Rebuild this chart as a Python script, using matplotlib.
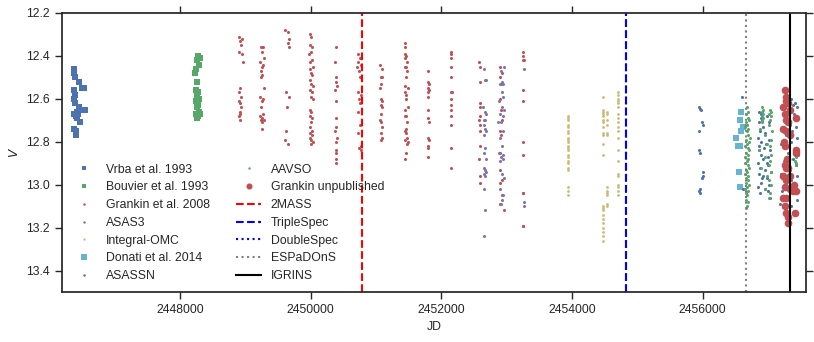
import matplotlib
matplotlib.use("Agg")
import matplotlib.pyplot as plt

plt.rcParams["font.family"] = ["Liberation Sans", "DejaVu Sans"]
plt.rcParams["font.size"] = 8.8
plt.rcParams["text.color"] = ".15"
plt.rcParams["axes.labelcolor"] = ".15"
plt.rcParams["xtick.color"] = ".15"
plt.rcParams["ytick.color"] = ".15"

# --- photometry (JD, V) ---
vrba = [(2446380, 12.46), (2446380, 12.48), (2446385, 12.50), (2446445, 12.52), (2446500, 12.55),
        (2446535, 12.55), (2446380, 12.56), (2446390, 12.58), (2446380, 12.60), (2446395, 12.62),
        (2446450, 12.64), (2446505, 12.65), (2446540, 12.65), (2446415, 12.66), (2446380, 12.67),
        (2446400, 12.68), (2446425, 12.69), (2446470, 12.71), (2446380, 12.74), (2446410, 12.75),
        (2446410, 12.77), (2446440, 12.67)]

bouvier = [(2448280, 12.40), (2448300, 12.41), (2448260, 12.42), (2448290, 12.44), (2448250, 12.46),
           (2448235, 12.48), (2448260, 12.52), (2448240, 12.56), (2448280, 12.57), (2448260, 12.58),
           (2448295, 12.60), (2448240, 12.61), (2448275, 12.63), (2448255, 12.64), (2448290, 12.66),
           (2448245, 12.67), (2448280, 12.68), (2448260, 12.69), (2448300, 12.67), (2448265, 12.62)]

grankin08 = [
    (2448900, 12.31), (2448945, 12.32), (2448910, 12.33), (2448930, 12.35), (2448905, 12.38),
    (2448950, 12.39), (2448960, 12.43), (2448910, 12.55), (2448900, 12.57), (2448925, 12.59),
    (2448905, 12.61), (2448915, 12.62), (2448930, 12.64), (2448910, 12.66), (2448920, 12.67),
    (2448900, 12.68), (2448915, 12.70),
    (2449240, 12.36), (2449270, 12.36), (2449255, 12.38), (2449280, 12.41), (2449230, 12.43),
    (2449265, 12.44), (2449250, 12.45), (2449235, 12.47), (2449260, 12.49), (2449245, 12.50),
    (2449280, 12.55), (2449230, 12.59), (2449275, 12.60), (2449250, 12.61), (2449240, 12.64),
    (2449265, 12.67), (2449230, 12.68), (2449255, 12.69), (2449280, 12.70), (2449240, 12.70),
    (2449260, 12.71), (2449250, 12.74),
    (2449610, 12.28), (2449650, 12.29), (2449660, 12.32), (2449655, 12.34), (2449665, 12.36),
    (2449615, 12.57), (2449660, 12.59), (2449640, 12.64), (2449620, 12.75), (2449610, 12.79),
    (2449655, 12.81),
    (2449985, 12.30), (2450010, 12.31), (2449990, 12.35), (2450020, 12.36), (2450000, 12.38),
    (2449980, 12.39), (2450015, 12.42), (2449995, 12.43), (2450030, 12.45), (2449985, 12.46),
    (2450005, 12.48), (2450025, 12.49), (2449990, 12.51), (2450010, 12.53), (2450035, 12.54),
    (2449985, 12.56), (2450020, 12.57), (2450000, 12.59), (2450030, 12.60), (2449990, 12.65),
    (2450010, 12.66), (2449985, 12.68), (2450020, 12.69), (2450000, 12.71), (2449995, 12.73),
    (2450015, 12.75), (2449985, 12.76), (2450025, 12.77), (2449990, 12.78), (2450005, 12.79),
    (2450030, 12.80), (2450010, 12.81),
    (2450385, 12.36), (2450375, 12.43), (2450390, 12.50), (2450380, 12.52), (2450395, 12.54),
    (2450375, 12.56), (2450385, 12.61), (2450380, 12.69), (2450390, 12.73), (2450375, 12.75),
    (2450395, 12.78), (2450385, 12.80), (2450380, 12.84), (2450390, 12.85), (2450385, 12.88),
    (2450380, 12.90),
    (2450720, 12.39), (2450760, 12.41), (2450730, 12.43), (2450770, 12.44), (2450715, 12.45),
    (2450740, 12.47), (2450755, 12.50), (2450725, 12.57), (2450765, 12.58), (2450735, 12.60),
    (2450750, 12.62), (2450720, 12.66), (2450760, 12.72), (2450730, 12.76), (2450770, 12.82),
    (2450745, 12.83), (2450775, 12.84),
    (2451065, 12.44), (2451085, 12.46), (2451070, 12.50), (2451090, 12.50), (2451075, 12.53),
    (2451065, 12.55), (2451080, 12.60), (2451090, 12.61), (2451070, 12.63), (2451085, 12.64),
    (2451075, 12.67), (2451065, 12.70), (2451080, 12.71), (2451090, 12.73), (2451070, 12.76),
    (2451085, 12.78), (2451075, 12.79),
    (2451445, 12.34), (2451450, 12.36), (2451440, 12.39), (2451465, 12.40), (2451450, 12.41),
    (2451480, 12.43), (2451460, 12.45), (2451445, 12.45), (2451470, 12.47), (2451455, 12.50),
    (2451440, 12.54), (2451490, 12.55), (2451450, 12.57), (2451465, 12.58), (2451455, 12.60),
    (2451490, 12.64), (2451445, 12.65), (2451460, 12.68), (2451440, 12.68), (2451470, 12.71),
    (2451455, 12.74), (2451445, 12.75), (2451465, 12.76), (2451475, 12.78), (2451450, 12.79),
    (2451485, 12.80), (2451470, 12.81), (2451460, 12.85), (2451450, 12.88),
    (2451800, 12.47), (2451790, 12.52), (2451810, 12.53), (2451795, 12.55), (2451815, 12.56),
    (2451800, 12.57), (2451790, 12.59), (2451800, 12.65), (2451790, 12.69), (2451805, 12.71),
    (2451795, 12.78), (2451805, 12.79), (2451795, 12.82), (2451800, 12.83), (2451790, 12.87),
    (2452140, 12.38), (2452155, 12.39), (2452150, 12.41), (2452145, 12.45), (2452145, 12.50),
    (2452150, 12.57), (2452160, 12.57), (2452155, 12.60), (2452140, 12.63), (2452150, 12.65),
    (2452145, 12.68), (2452150, 12.72), (2452145, 12.83), (2452150, 12.92),
    (2452580, 12.43), (2452590, 12.45), (2452585, 12.52), (2452595, 12.62), (2452585, 12.64),
    (2452590, 12.68), (2452580, 12.70), (2452595, 12.72), (2452585, 12.75), (2452590, 12.82),
    (2452580, 12.88), (2452595, 12.96), (2452585, 12.99),
    (2452890, 12.45), (2452930, 12.48), (2452900, 12.50), (2452920, 12.53), (2452895, 12.60),
    (2452910, 12.65), (2452925, 12.70), (2452900, 12.75), (2452915, 12.77), (2452905, 12.85),
    (2452890, 12.93), (2452925, 12.98), (2452905, 12.99), (2452935, 13.05), (2452900, 13.09),
    (2452960, 13.12),
    (2453245, 12.38), (2453255, 12.40), (2453250, 12.42), (2453260, 12.42), (2453250, 12.56),
    (2453250, 12.61), (2453250, 12.80), (2453250, 12.86), (2453245, 13.04), (2453255, 13.04),
    (2453245, 13.19), (2453255, 13.19)]

asas3 = [
    (2452650, 12.46), (2452665, 12.51), (2452680, 12.51), (2452640, 12.64), (2452670, 12.66),
    (2452690, 12.67), (2452655, 12.70), (2452675, 12.70), (2452645, 12.72), (2452665, 12.74),
    (2452685, 12.75), (2452655, 12.77), (2452675, 12.83), (2452660, 12.85), (2452690, 12.88),
    (2452650, 12.92), (2452670, 12.93), (2452680, 12.94), (2452660, 12.95), (2452675, 12.96),
    (2452645, 13.02), (2452665, 13.12), (2452660, 13.24),
    (2452960, 12.45), (2452915, 12.47), (2452935, 12.52), (2452950, 12.53), (2452890, 12.53),
    (2452930, 12.57), (2452945, 12.59), (2452880, 12.61), (2452925, 12.64), (2452955, 12.65),
    (2452900, 12.67), (2452940, 12.68), (2452870, 12.71), (2452920, 12.71), (2452945, 12.75),
    (2452905, 12.78), (2452935, 12.82), (2452885, 12.85), (2452950, 12.86), (2452915, 12.87),
    (2452940, 12.88), (2452900, 12.89), (2452925, 12.95), (2452955, 12.97), (2452905, 13.02),
    (2452945, 13.05), (2452930, 13.07), (2452915, 13.09),
    (2453260, 12.46), (2453265, 13.08), (2453270, 13.10)]

integral = [(2453935, v) for v in (12.68, 12.69, 12.70, 12.72, 12.73, 12.75, 12.76, 12.78, 12.79,
                                   12.80, 12.82, 12.83, 12.84, 12.86, 12.87, 12.89, 12.90, 12.92,
                                   12.93, 13.01, 13.03, 13.05)]
integral += [(2454475, v) for v in (12.59, 12.65, 12.66, 12.67, 12.68, 12.70, 12.71, 12.73, 12.76,
                                    12.77, 12.81, 12.86, 13.10, 13.11, 13.12, 13.14, 13.16, 13.18,
                                    13.20, 13.22, 13.24, 13.26)]
integral += [(2454535, v) for v in (12.66, 12.67, 12.70, 12.72, 12.76, 12.77, 13.01, 13.03, 13.04,
                                    13.05, 13.09, 13.10)]
integral += [(2454700, v) for v in (12.57, 12.58, 12.60, 12.61, 12.62, 12.64, 12.67, 12.69, 12.71,
                                    12.73, 12.75, 12.78, 12.84, 12.89, 12.95, 12.96, 13.00, 13.01,
                                    13.03, 13.05)]

donati = [(2456594, 12.66), (2456568, 12.70), (2456619, 12.73), (2456594, 12.75), (2456517, 12.78),
          (2456543, 12.82), (2456568, 12.82), (2456558, 12.94), (2456579, 13.01)]

asassn = [
    (2455950, 12.64), (2455965, 12.645), (2455975, 12.65), (2455985, 12.71), (2456000, 12.72),
    (2455940, 12.75), (2455950, 12.84), (2455965, 12.85), (2456000, 12.94), (2456010, 12.96),
    (2455990, 12.97), (2455960, 13.02), (2455950, 13.03), (2455965, 13.04),
    (2456605, 12.59), (2456615, 13.02),
    (2456870, 12.66), (2456900, 12.67), (2456890, 12.69), (2456915, 12.70), (2456860, 12.71),
    (2456990, 12.68), (2457010, 12.71), (2456930, 12.73), (2456880, 12.75), (2456960, 12.76),
    (2456850, 12.78), (2457020, 12.79), (2456900, 12.80), (2456975, 12.81), (2456860, 12.82),
    (2456940, 12.83), (2457030, 12.84), (2456890, 12.86), (2456995, 12.87), (2456920, 12.88),
    (2456850, 12.90), (2457005, 12.91), (2456880, 12.92), (2456960, 12.93), (2457040, 12.94),
    (2456865, 12.95), (2456930, 12.96), (2456990, 12.97), (2456900, 12.99), (2457020, 13.00),
    (2456850, 13.01), (2456950, 13.02), (2457000, 13.03), (2456880, 13.04), (2457030, 13.06),
    (2456905, 12.97), (2456985, 12.90), (2456870, 12.84),
    (2457280, 12.57), (2457350, 12.60), (2457420, 12.62), (2457380, 12.63), (2457450, 12.64),
    (2457300, 12.66), (2457400, 12.67), (2457460, 12.69), (2457240, 12.70), (2457330, 12.72),
    (2457430, 12.73), (2457370, 12.75), (2457270, 12.77), (2457440, 12.78), (2457350, 12.80),
    (2457200, 12.81), (2457410, 12.83), (2457300, 12.85), (2457460, 12.86), (2457380, 12.88),
    (2457250, 12.89), (2457430, 12.91), (2457330, 12.93), (2457200, 12.95), (2457450, 12.96),
    (2457360, 12.98), (2457280, 13.00), (2457420, 13.01), (2457220, 13.03), (2457390, 13.04),
    (2457310, 13.06), (2457440, 13.07), (2457190, 13.09), (2457350, 13.10), (2457270, 13.12),
    (2457400, 13.13), (2457330, 13.15), (2457300, 13.17)]

aavso = [
    (2456680, 12.64), (2456700, 12.66), (2456670, 12.67), (2456690, 12.69), (2456710, 12.70),
    (2456660, 12.71), (2456685, 12.72), (2456650, 12.73), (2456700, 12.74), (2456675, 12.75),
    (2456690, 12.77), (2456720, 12.78), (2456660, 12.79), (2456705, 12.80), (2456680, 12.81),
    (2456650, 12.82), (2456695, 12.83), (2456715, 12.84), (2456670, 12.85), (2456690, 12.86),
    (2456655, 12.87), (2456700, 12.88), (2456675, 12.89), (2456645, 12.90), (2456690, 12.91),
    (2456710, 12.92), (2456665, 12.93), (2456685, 12.94), (2456650, 12.95), (2456700, 12.96),
    (2456670, 12.97), (2456690, 12.98), (2456660, 12.99), (2456705, 13.00), (2456680, 13.01),
    (2456650, 13.02), (2456695, 13.03), (2456670, 13.04), (2456685, 13.05), (2456660, 13.07),
    (2456690, 13.08), (2456675, 13.10), (2456665, 13.11),
    (2456915, 12.64), (2456920, 12.65), (2456910, 12.66), (2456918, 12.67), (2456912, 12.68),
    (2456922, 12.69), (2456915, 12.70), (2456910, 12.71), (2457030, 12.65), (2457045, 12.66),
    (2457020, 12.67), (2457050, 12.68), (2457035, 12.70), (2457010, 12.72), (2456880, 12.74),
    (2457060, 12.75), (2456950, 12.77), (2457040, 12.79), (2456990, 12.81), (2457025, 12.82),
    (2456870, 12.84), (2457045, 12.86), (2456960, 12.87), (2457030, 12.89), (2457010, 12.91),
    (2456900, 12.92), (2457040, 12.94), (2456990, 12.96), (2457020, 12.98), (2457050, 13.00),
    (2456960, 13.02), (2457035, 13.04), (2457015, 13.06),
    (2457420, 12.85), (2457425, 12.87), (2457420, 12.89), (2457428, 12.90), (2457422, 12.91)]

grankin_unpub = [
    (2457257, 12.56), (2457283, 12.59), (2457270, 12.61), (2457308, 12.62), (2457231, 12.64),
    (2457334, 12.65), (2457257, 12.67), (2457283, 12.70), (2457308, 12.71), (2457436, 12.69),
    (2457231, 12.74), (2457283, 12.75), (2457334, 12.77), (2457257, 12.82), (2457436, 12.84),
    (2457425, 12.85), (2457257, 12.91), (2457283, 12.92), (2457308, 12.92), (2457231, 12.96),
    (2457334, 12.96), (2457283, 12.98), (2457257, 13.01), (2457334, 13.02), (2457385, 13.03),
    (2457425, 13.03), (2457231, 13.06), (2457283, 13.06), (2457257, 13.10), (2457283, 13.13),
    (2457308, 13.15), (2457410, 13.13), (2457308, 13.18), (2457245, 12.80), (2457295, 12.88),
    (2457400, 13.00)]

# epochs of spectroscopy / imaging
epochs = {"2MASS": 2450780, "TripleSpec": 2454820, "DoubleSpec": 2454820,
          "ESPaDOnS": 2456656, "IGRINS": 2457333}

blue, green, red, purple, yellow, cyan = "#4C72B0", "#55A868", "#C44E52", "#8172B2", "#CCB974", "#64B5CD"

series = [
    ("Vrba et al. 1993", vrba, "s", 4.0, blue),
    ("Bouvier et al. 1993", bouvier, "s", 4.0, green),
    ("Grankin et al. 2008", grankin08, "o", 2.2, red),
    ("ASAS3", asas3, "o", 2.2, purple),
    ("Integral-OMC", integral, "o", 2.0, yellow),
    ("Donati et al. 2014", donati, "s", 5.0, cyan),
    ("ASASSN", asassn, "o", 2.2, blue),
    ("AAVSO", aavso, "o", 2.2, green),
    ("Grankin unpublished", grankin_unpub, "o", 5.5, red),
]

fig = plt.figure(figsize=(8.14, 3.42), dpi=100)
ax = fig.add_axes([0.076, 0.146, 0.914, 0.816])

for label, pts, mk, ms, col in series:
    jd = [p[0] for p in pts]
    v = [p[1] for p in pts]
    ax.plot(jd, v, ls="none", marker=mk, ms=ms, mew=0, color=col, label=label)

ax.axvline(epochs["2MASS"], color="r", ls="--", lw=1.5, label="2MASS")
ax.axvline(epochs["TripleSpec"], color="b", ls="--", lw=1.5, label="TripleSpec")
ax.axvline(epochs["DoubleSpec"], color="b", ls=":", lw=1.5, label="DoubleSpec")
ax.axvline(epochs["ESPaDOnS"], color="gray", ls=":", lw=1.5, label="ESPaDOnS")
ax.axvline(epochs["IGRINS"], color="k", ls="-", lw=1.5, label="IGRINS")

ax.set_xlim(2446190, 2457580)
ax.set_ylim(13.5, 12.2)
ax.set_xticks([2448000, 2450000, 2452000, 2454000, 2456000])
ax.set_xticklabels(["2448000", "2450000", "2452000", "2454000", "2456000"])
ax.set_yticks([12.2, 12.4, 12.6, 12.8, 13.0, 13.2, 13.4])
ax.set_xlabel("JD")
ax.set_ylabel("$V$")

for s in ax.spines.values():
    s.set_color(".15")
    s.set_linewidth(1.25)
ax.tick_params(direction="out", length=5, width=1, top=True, right=True)

ax.legend(loc="lower left", ncol=2, frameon=False, markerscale=0.8, numpoints=1,
          labelspacing=0.47, columnspacing=2.2, bbox_to_anchor=(-0.002, -0.004))

fig.savefig("out.png", dpi=100)
